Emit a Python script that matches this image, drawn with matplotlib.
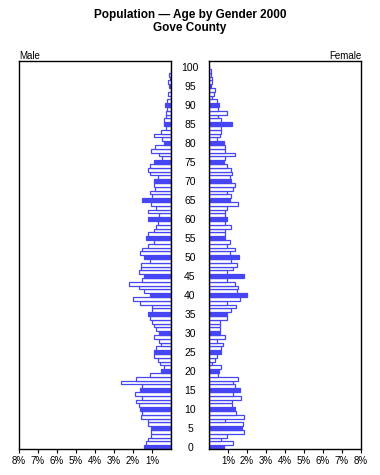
import matplotlib
matplotlib.use("Agg")
import matplotlib.pyplot as plt
import numpy as np

plt.rcParams['font.family'] = ['Liberation Sans', 'DejaVu Sans']

ages = np.arange(0, 101)

# percent of total population, ages 0..100
male = [1.40, 1.33, 1.23, 1.07, 1.07, 1.05, 1.23, 1.23, 1.60, 1.54,
        1.65, 1.68, 1.86, 1.54, 1.91, 1.65, 1.54, 2.65, 1.86, 1.12,
        0.54, 0.39, 0.56, 0.70, 0.91, 0.91, 0.79, 0.54, 0.65, 0.91,
        0.65, 0.81, 0.88, 1.02, 1.12, 1.23, 1.02, 1.02, 1.65, 2.02,
        1.12, 1.44, 1.68, 2.21, 1.54, 1.40, 1.68, 1.58, 1.58, 1.12,
        1.40, 1.65, 1.54, 1.23, 0.91, 1.33, 1.21, 0.91, 0.77, 0.70,
        1.23, 0.63, 1.21, 0.79, 1.05, 1.54, 1.00, 1.12, 0.84, 0.91,
        0.91, 0.70, 1.09, 1.23, 1.09, 0.91, 0.49, 0.63, 1.05, 0.84,
        0.39, 0.49, 0.91, 0.53, 0.28, 0.39, 0.39, 0.28, 0.28, 0.21,
        0.33, 0.23, 0.00, 0.14, 0.00, 0.09, 0.14, 0.07, 0.09, 0.00,
        0.00]
female = [0.81, 1.28, 0.65, 0.96, 1.86, 1.75, 1.81, 0.86, 1.86, 1.44,
          1.39, 1.23, 1.23, 1.70, 1.28, 1.65, 1.39, 1.28, 1.54, 0.49,
          0.51, 0.65, 0.18, 0.33, 0.44, 0.65, 0.65, 0.75, 0.44, 0.86,
          0.60, 0.60, 0.60, 0.60, 0.96, 0.93, 1.18, 1.44, 0.96, 1.65,
          1.98, 1.49, 1.54, 1.39, 0.96, 1.82, 0.96, 1.28, 1.49, 1.18,
          1.56, 1.10, 1.39, 0.96, 1.12, 0.86, 0.86, 0.86, 1.18, 0.86,
          0.93, 0.82, 0.82, 0.93, 1.54, 1.09, 1.18, 0.96, 1.28, 1.39,
          1.14, 1.12, 1.23, 1.14, 0.96, 0.77, 0.86, 1.39, 0.82, 0.82,
          0.77, 0.44, 0.58, 0.65, 0.65, 1.19, 0.65, 0.47, 0.96, 0.46,
          0.51, 0.44, 0.16, 0.26, 0.30, 0.12, 0.18, 0.16, 0.12, 0.10,
          0.00]

blue = '#4646f5'
fills = [blue if a % 5 == 0 else 'white' for a in ages]

fig = plt.figure(figsize=(3.8, 4.75), dpi=100)
axm = fig.add_axes([0.05, 0.0547, 0.4, 0.8168])
axf = fig.add_axes([0.55, 0.0547, 0.4, 0.8168])

for ax, vals in ((axm, male), (axf, female)):
    ax.barh(ages, vals, height=1.0, color=fills, edgecolor=blue, linewidth=0.9)
    ax.set_ylim(-0.5, 101.6)
    ax.set_xlim(0, 8)
    ax.set_yticks([])
    ax.set_xticks(range(1, 9))
    ax.set_xticklabels([f'{i}%' for i in range(1, 9)], fontsize=7)
    ax.tick_params(axis='x', direction='out', length=3, width=0.8, pad=2)
    for s in ax.spines.values():
        s.set_linewidth(1.0)

axm.invert_xaxis()

# age labels down the middle, every five years
for a in range(0, 101, 5):
    fig.text(0.5, 0.0547 + 0.8168 * (a + 0.2) / 102.1, str(a), ha='center',
             va='center', fontsize=7.5)

fig.text(0.5, 0.968, 'Population \u2014 Age by Gender 2000', ha='center',
         va='center', fontsize=8.5, fontweight='bold')
fig.text(0.5, 0.942, 'Gove County', ha='center', va='center',
         fontsize=8.5, fontweight='bold')
fig.text(0.05, 0.882, 'Male', ha='left', va='center', fontsize=7)
fig.text(0.95, 0.882, 'Female', ha='right', va='center', fontsize=7)

fig.savefig('out.png', dpi=100)
